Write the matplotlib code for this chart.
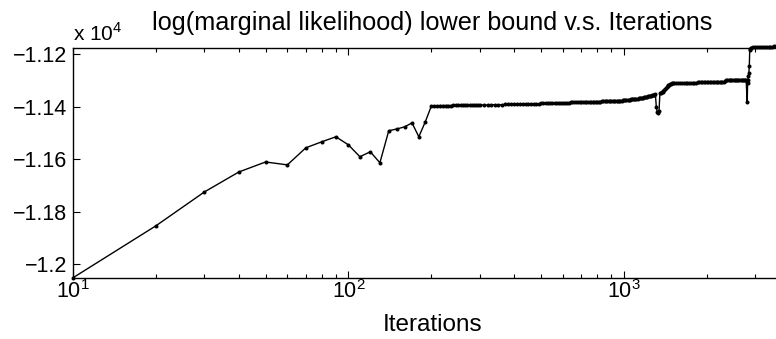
import numpy as np
import matplotlib
matplotlib.use("Agg")
import matplotlib.pyplot as plt
from matplotlib.ticker import FixedLocator, LogLocator, NullFormatter

plt.rcParams['font.family'] = ['Liberation Sans', 'DejaVu Sans']
plt.rcParams['mathtext.fontset'] = 'custom'
plt.rcParams['mathtext.rm'] = 'Liberation Sans'
plt.rcParams['axes.unicode_minus'] = True

# early iterations, every 10
iters_a = np.arange(10, 201, 10)
bound_a = [-12051, -11853, -11724, -11648, -11610, -11621, -11556, -11533, -11514, -11545,
           -11590, -11571, -11613, -11491, -11484, -11476, -11461, -11514, -11457, -11396]

# first plateau, every 5 then every 10
iters_b = np.concatenate([np.arange(205, 301, 5), np.arange(310, 1301, 10)])
bound_b = [-11396, -11396, -11395, -11395, -11395, -11395, -11395, -11394, -11394, -11394,
           -11394, -11394, -11394, -11394, -11393, -11393, -11393, -11393, -11393, -11393,
           # 310 .. 400
           -11393, -11393, -11392, -11392, -11392, -11392, -11391, -11391, -11391, -11391,
           # 410 .. 500
           -11390, -11390, -11390, -11390, -11389, -11389, -11389, -11388, -11388, -11387,
           # 510 .. 600
           -11387, -11387, -11386, -11386, -11386, -11386, -11385, -11385, -11385, -11384,
           # 610 .. 700
           -11384, -11384, -11384, -11383, -11383, -11383, -11383, -11382, -11382, -11382,
           # 710 .. 800
           -11382, -11382, -11381, -11381, -11381, -11381, -11381, -11380, -11380, -11380,
           # 810 .. 900
           -11380, -11380, -11379, -11379, -11379, -11379, -11379, -11378, -11378, -11378,
           # 910 .. 1000
           -11378, -11378, -11377, -11377, -11377, -11376, -11376, -11376, -11375, -11375,
           # 1010 .. 1100
           -11375, -11374, -11374, -11373, -11373, -11372, -11372, -11371, -11371, -11370,
           # 1110 .. 1200
           -11369, -11369, -11368, -11367, -11367, -11366, -11365, -11364, -11363, -11362,
           # 1210 .. 1300
           -11361, -11360, -11359, -11358, -11357, -11356, -11355, -11354, -11353, -11352]

# dip and second climb
iters_c = np.arange(1310, 1501, 10)
bound_c = [-11400, -11420, -11424, -11416, -11348, -11346, -11344, -11342, -11339, -11335,
           -11331, -11327, -11323, -11320, -11317, -11315, -11313, -11312, -11311, -11310]

# second plateau
iters_d = np.arange(1525, 2801, 25)
bound_d = [-11310, -11310, -11309, -11309, -11309, -11309, -11309, -11308, -11308, -11308,
           -11308, -11308, -11308, -11307, -11307, -11307, -11307, -11307, -11307, -11307,
           -11307, -11307, -11306, -11306, -11306, -11306, -11306, -11306, -11306, -11306,
           -11306, -11306, -11303, -11298, -11297, -11297, -11297, -11297, -11297, -11297,
           -11297, -11297, -11297, -11297, -11297, -11297, -11297, -11297, -11297, -11297,
           -11297, -11380]

# last jump and final plateau
iters_e = [2810, 2820, 2830, 2840, 2850, 2860, 2870, 2880, 2900, 2950,
           3000, 3050, 3100, 3150, 3200, 3250, 3300, 3350, 3400, 3450,
           3500, 3550, 3600]
bound_e = [-11310, -11296, -11282, -11270, -11246, -11183, -11178, -11176, -11174, -11173,
           -11172, -11172, -11172, -11171, -11171, -11171, -11171, -11171, -11171, -11171,
           -11170, -11170, -11170]

iters = np.concatenate([iters_a, iters_b, iters_c, iters_d, iters_e])
bound = np.concatenate([bound_a, bound_b, bound_c, bound_d, bound_e])

fig = plt.figure(figsize=(7.76, 3.39), dpi=100)
ax = fig.add_axes([73 / 776, 60.7 / 339, 718.5 / 776, 230 / 339])

ax.plot(iters, bound / 1e4, color='black', linewidth=1.0, marker='o',
        markersize=2.9, markeredgewidth=0, clip_on=False)

ax.set_xscale('log')
ax.set_xlim(10, 4055)
ax.set_ylim(-1.2053, -1.1177)

yticks = [-1.2, -1.18, -1.16, -1.14, -1.12]
ax.yaxis.set_major_locator(FixedLocator(yticks))
ax.set_yticklabels(['\u22121.2', '\u22121.18', '\u22121.16', '\u22121.14', '\u22121.12'])
ax.xaxis.set_major_locator(LogLocator(base=10, numticks=10))
ax.xaxis.set_minor_locator(LogLocator(base=10, subs=np.arange(2, 10), numticks=20))
ax.xaxis.set_minor_formatter(NullFormatter())

ax.tick_params(which='both', direction='in', top=True, right=True, labelsize=15.5, width=0.8)
ax.tick_params(which='major', length=5, pad=4)
ax.tick_params(axis='x', which='major', pad=1)
ax.tick_params(which='minor', length=3)
for s in ax.spines.values():
    s.set_linewidth(1.0)

ax.set_xlabel('Iterations', fontsize=17.5)
ax.xaxis.set_label_coords(0.5, -0.155)
ax.xaxis.label.set_verticalalignment('top')
ax.set_title('log(marginal likelihood) lower bound v.s. Iterations', fontsize=18.2, pad=13)
fig.text(73 / 776, 1 - 41 / 339, 'x 10$^{4}$', fontsize=15, ha='left', va='baseline')

fig.savefig('out.png', dpi=100)
